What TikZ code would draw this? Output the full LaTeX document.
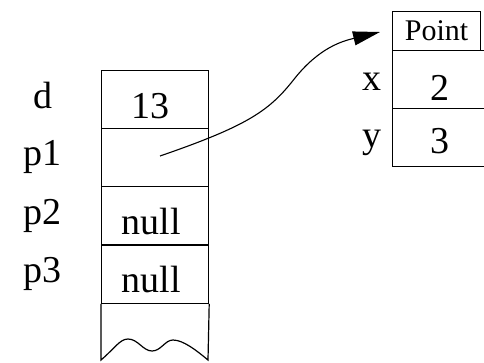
\documentclass[tikz,border=0pt]{standalone}
\usepackage{fontspec}
\setmainfont{Liberation Serif}
\usetikzlibrary{arrows.meta}
\begin{document}
\begin{tikzpicture}[x=1pt,y=-1pt,
  cell/.style={draw,line width=1.2pt,rectangle,inner sep=0pt,minimum width=107pt,minimum height=58.3pt,anchor=north west},
  pcell/.style={draw,line width=1.2pt,rectangle,inner sep=0pt,minimum width=110pt,minimum height=58pt,anchor=north west},
  lbl/.style={anchor=base,inner sep=0pt,font=\fontsize{38}{42}\selectfont},
  hdr/.style={draw,line width=1.2pt,rectangle,inner sep=0pt,minimum width=88pt,minimum height=39pt,anchor=north west,font=\fontsize{30}{33}\selectfont},
  ptr/.style={line width=1.1pt,-{Triangle[length=27pt,width=14pt]}}]
\clip (0,0) rectangle (484,362);
% stack cells
\node[cell] (cd) at (101,69.5) {};
\node[cell] (cp1) at (101,127.8) {};
\node[cell] (cp2) at (101,186.1) {};
\node[cell] (cp3) at (101,244.4) {};
\coordinate (bl) at (101,360);
\coordinate (br) at (208,360);
\draw[line width=1.2pt] (cp3.south west) -- (bl)
  .. controls (115,348) and (120,339) .. (128,339)
  .. controls (138,339) and (143,351) .. (152,351)
  .. controls (161,351) and (165,340) .. (173,340)
  .. controls (183,340) and (196,350) .. (br) -- (cp3.south east);
% labels
\node[lbl] (ld) at (43,108) {d};
\node[lbl] (lp1) at (42,165) {p1};
\node[lbl] (lp2) at (42,224) {p2};
\node[lbl] (lp3) at (42,282) {p3};
\node[lbl] (v13) at (150,118) {13};
\node[lbl] (vn2) at (151,234) {null};
\node[lbl] (vn3) at (151,292) {null};
% object
\node[hdr] (hp) at (392,11) {Point};
\node[pcell] (cx) at (392,50) {};
\node[pcell] (cy) at (392,108) {};
\node[lbl] (lx) at (372,90) {x};
\node[lbl] (ly) at (372,147) {y};
\node[lbl] (vx) at (440,100) {2};
\node[lbl] (vy) at (440,153) {3};
% pointer
\coordinate (ps) at (160,156);
\coordinate (pe) at (380,32);
\draw[ptr] (ps) .. controls (250,125) and (270,110) .. (295,78)
  .. controls (320,47) and (343,41) .. (pe);
\end{tikzpicture}
\end{document}
